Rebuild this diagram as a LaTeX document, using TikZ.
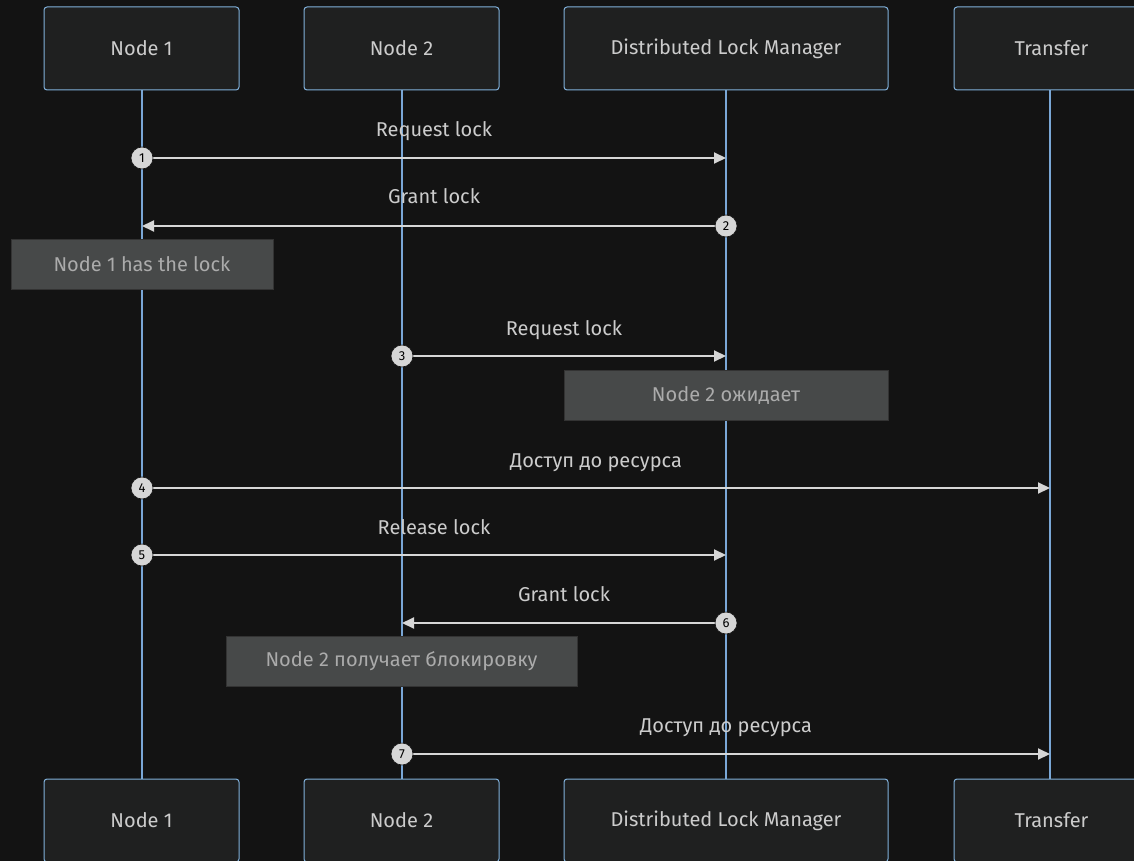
\documentclass[tikz,border=0pt]{standalone}
\usepackage{fontspec}
\setmainfont{Fira Sans}
\usetikzlibrary{arrows.meta}
\definecolor{bg}{HTML}{131313}
\definecolor{actfill}{HTML}{1F2020}
\definecolor{actline}{HTML}{81B1DB}
\definecolor{lifeln}{HTML}{7AA7D6}
\definecolor{msgcol}{HTML}{D6D6D6}
\definecolor{txt}{HTML}{CCCCCC}
\definecolor{notefill}{HTML}{474949}
\definecolor{noteline}{HTML}{333333}
\definecolor{notetxt}{HTML}{ABABAB}
\tikzset{
  basefont/.style={font=\fontsize{20}{24}\selectfont},
  actor/.style={draw=actline, fill=actfill, rounded corners=3pt, line width=1pt,
    minimum height=83pt, text=txt, basefont, inner sep=0pt},
  lifeline/.style={draw=lifeln, line width=2pt},
  msg/.style={draw=msgcol, line width=2pt, -{Triangle[length=12pt,width=11pt]}},
  msglabel/.style={text=txt, basefont, anchor=base},
  notebox/.style={draw=noteline, fill=notefill, line width=1pt, minimum height=50pt,
    text=notetxt, basefont, inner sep=0pt},
  seqnum/.style={circle, fill=msgcol, draw=bg, line width=0.6pt, minimum size=22pt,
    inner sep=0pt, text=black, font=\fontsize{13}{14}\selectfont},
}
\begin{document}
\begin{tikzpicture}[x=1pt, y=-1pt]
\useasboundingbox (0,0) rectangle (1134,861);
\clip (0,0) rectangle (1134,861);
\fill[bg] (0,0) rectangle (1134,861);

% lifelines
\draw[lifeline] (142,90) -- (142,780);
\draw[lifeline] (402,90) -- (402,780);
\draw[lifeline] (726,90) -- (726,780);
\draw[lifeline] (1050,90) -- (1050,780);

% participants, top and bottom
\node[actor, minimum width=195pt] (n1t) at (141.5,48.5) {Node 1};
\node[actor, minimum width=195pt] (n2t) at (401.5,48.5) {Node 2};
\node[actor, minimum width=324pt] (dlmt) at (726,48.5) {Distributed Lock Manager};
\node[actor, minimum width=195pt] (trt) at (1051.5,48.5) {Transfer};
\node[actor, minimum width=195pt] (n1b) at (141.5,820.5) {Node 1};
\node[actor, minimum width=195pt] (n2b) at (401.5,820.5) {Node 2};
\node[actor, minimum width=324pt] (dlmb) at (726,820.5) {Distributed Lock Manager};
\node[actor, minimum width=195pt] (trb) at (1051.5,820.5) {Transfer};

% anchor points on the lifelines
\coordinate (a1) at (142,158); \coordinate (b1) at (726,158);
\coordinate (a2) at (726,226); \coordinate (b2) at (142,226);
\coordinate (a3) at (402,356); \coordinate (b3) at (726,356);
\coordinate (a4) at (142,488); \coordinate (b4) at (1050,488);
\coordinate (a5) at (142,555); \coordinate (b5) at (726,555);
\coordinate (a6) at (726,623); \coordinate (b6) at (402,623);
\coordinate (a7) at (402,754); \coordinate (b7) at (1050,754);

% messages
\draw[msg] (a1) -- (b1);
\node[msglabel] (l1) at (434,137) {Request lock};
\draw[msg] (a2) -- (b2);
\node[msglabel] (l2) at (434,204) {Grant lock};

\node[notebox, minimum width=262pt] (note1) at (142,264) {Node 1 has the lock};

\draw[msg] (a3) -- (b3);
\node[msglabel] (l3) at (564,335) {Request lock};

\node[notebox, minimum width=324pt] (note2) at (726,395) {Node 2 ожидает};

\draw[msg] (a4) -- (b4);
\node[msglabel] (l4) at (596,467) {Доступ до ресурса};
\draw[msg] (a5) -- (b5);
\node[msglabel] (l5) at (434,534) {Release lock};
\draw[msg] (a6) -- (b6);
\node[msglabel] (l6) at (564,601) {Grant lock};

\node[notebox, minimum width=351pt] (note3) at (401.5,661.5) {Node 2 получает блокировку};

\draw[msg] (a7) -- (b7);
\node[msglabel] (l7) at (726,732) {Доступ до ресурса};

% sequence numbers
\node[seqnum] (s1) at (a1) {1};
\node[seqnum] (s2) at (a2) {2};
\node[seqnum] (s3) at (a3) {3};
\node[seqnum] (s4) at (a4) {4};
\node[seqnum] (s5) at (a5) {5};
\node[seqnum] (s6) at (a6) {6};
\node[seqnum] (s7) at (a7) {7};
\end{tikzpicture}
\end{document}
